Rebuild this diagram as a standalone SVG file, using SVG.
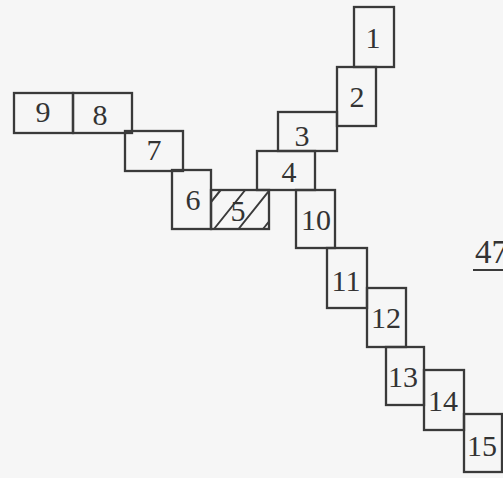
<svg xmlns="http://www.w3.org/2000/svg" width="503" height="478" viewBox="0 0 503 478">
<style>
.b{fill:none;stroke:#3a3a3a;stroke-width:2.3}
.h{fill:none;stroke:#3a3a3a;stroke-width:2}
.t{font-family:"Liberation Serif","Times New Roman",serif;font-size:30px;fill:#333;text-anchor:middle}
</style>
<rect x="0" y="0" width="503" height="478" fill="#f6f6f6"/>
<g id="node1"><rect class="b" x="354" y="7" width="40" height="60"/><text class="t" x="373" y="48">1</text></g>
<g id="node2"><rect class="b" x="337" y="67" width="39" height="59"/><text class="t" x="357" y="107">2</text></g>
<g id="node3"><rect class="b" x="278" y="112" width="59" height="39"/><text class="t" x="302" y="146">3</text></g>
<g id="node4"><rect class="b" x="257" y="151" width="58" height="39"/><text class="t" x="289" y="182">4</text></g>
<g id="node5"><rect class="b" x="211" y="190" width="58" height="39"/>
<path class="h" d="M211,202.1 L220.7,190 M214,229 L245.2,190 M238.5,229 L269,190.9 M263,229 L269,221.5"/>
<text class="t" x="238" y="221">5</text></g>
<g id="node6"><rect class="b" x="172" y="170" width="39" height="59"/><text class="t" x="193" y="210">6</text></g>
<g id="node7"><rect class="b" x="125" y="131" width="58" height="40"/><text class="t" x="154" y="160">7</text></g>
<g id="node8"><rect class="b" x="73" y="93" width="59" height="40"/><text class="t" x="100" y="125">8</text></g>
<g id="node9"><rect class="b" x="14" y="93" width="59" height="40"/><text class="t" x="43" y="122">9</text></g>
<g id="node10"><rect class="b" x="296" y="190" width="39" height="58"/><text class="t" x="316" y="230">10</text></g>
<g id="node11"><rect class="b" x="327" y="248" width="40" height="60"/><text class="t" x="346" y="291">11</text></g>
<g id="node12"><rect class="b" x="367" y="288" width="39" height="59"/><text class="t" x="386" y="328">12</text></g>
<g id="node13"><rect class="b" x="386" y="347" width="38" height="58"/><text class="t" x="403" y="387">13</text></g>
<g id="node14"><rect class="b" x="424" y="370" width="40" height="60"/><text class="t" x="443" y="411">14</text></g>
<g id="node15"><rect class="b" x="464" y="414" width="38" height="58"/><text class="t" x="482" y="456">15</text></g>
<g id="label47"><text class="t" x="475" y="263" style="text-anchor:start;font-size:33px">47</text><line class="h" x1="473" y1="270" x2="503" y2="270"/></g>
<g id="connectors"></g>
</svg>
